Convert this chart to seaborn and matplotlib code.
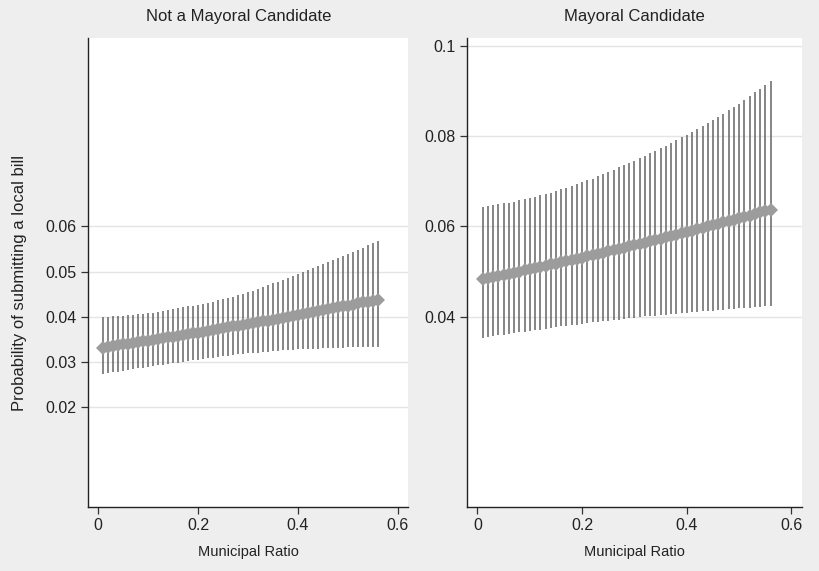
import matplotlib
matplotlib.use("Agg")
import numpy as np
import pandas as pd
import matplotlib.pyplot as plt
import seaborn as sns

# Municipal ratio values (one bar per 0.01 step)
ratio = [round(0.01 * i, 2) for i in range(1, 57)]

# Not a mayoral candidate: predicted probability and 95% CI
nm_mean = [0.0332, 0.0334, 0.0335, 0.0337, 0.0339, 0.0341, 0.0342, 0.0344, 0.0346, 0.0347,
           0.0349, 0.0351, 0.0353, 0.0355, 0.0356, 0.0358, 0.0360, 0.0362, 0.0364, 0.0365,
           0.0367, 0.0369, 0.0371, 0.0373, 0.0375, 0.0377, 0.0379, 0.0380, 0.0382, 0.0384,
           0.0386, 0.0388, 0.0390, 0.0392, 0.0394, 0.0396, 0.0398, 0.0400, 0.0402, 0.0404,
           0.0406, 0.0408, 0.0410, 0.0413, 0.0415, 0.0417, 0.0419, 0.0421, 0.0423, 0.0425,
           0.0427, 0.0430, 0.0432, 0.0434, 0.0436, 0.0438]
nm_upper = [0.0399, 0.0400, 0.0401, 0.0402, 0.0403, 0.0404, 0.0405, 0.0406, 0.0407, 0.0408,
            0.0409, 0.0411, 0.0413, 0.0415, 0.0417, 0.0419, 0.0421, 0.0423, 0.0425, 0.0427,
            0.0429, 0.0431, 0.0434, 0.0437, 0.0439, 0.0442, 0.0445, 0.0448, 0.0451, 0.0455,
            0.0458, 0.0462, 0.0466, 0.0470, 0.0474, 0.0478, 0.0482, 0.0486, 0.0490, 0.0495,
            0.0499, 0.0503, 0.0508, 0.0512, 0.0517, 0.0521, 0.0526, 0.0530, 0.0535, 0.0539,
            0.0544, 0.0549, 0.0553, 0.0558, 0.0563, 0.0567]
nm_lower = [0.0273, 0.0275, 0.0277, 0.0279, 0.0280, 0.0282, 0.0284, 0.0286, 0.0288, 0.0289,
            0.0291, 0.0293, 0.0294, 0.0296, 0.0298, 0.0299, 0.0301, 0.0302, 0.0304, 0.0305,
            0.0307, 0.0308, 0.0310, 0.0311, 0.0313, 0.0314, 0.0315, 0.0317, 0.0318, 0.0319,
            0.0320, 0.0321, 0.0322, 0.0323, 0.0324, 0.0325, 0.0326, 0.0327, 0.0327, 0.0328,
            0.0329, 0.0329, 0.0330, 0.0330, 0.0331, 0.0331, 0.0332, 0.0332, 0.0332, 0.0333,
            0.0333, 0.0333, 0.0333, 0.0334, 0.0334, 0.0334]

# Mayoral candidate
m_mean = [0.0483, 0.0485, 0.0488, 0.0490, 0.0493, 0.0495, 0.0498, 0.0500, 0.0503, 0.0505,
          0.0508, 0.0510, 0.0513, 0.0516, 0.0518, 0.0521, 0.0523, 0.0526, 0.0529, 0.0531,
          0.0534, 0.0537, 0.0540, 0.0542, 0.0545, 0.0548, 0.0551, 0.0553, 0.0556, 0.0559,
          0.0562, 0.0564, 0.0567, 0.0570, 0.0573, 0.0576, 0.0579, 0.0582, 0.0585, 0.0588,
          0.0591, 0.0594, 0.0597, 0.0600, 0.0603, 0.0606, 0.0609, 0.0612, 0.0615, 0.0618,
          0.0621, 0.0624, 0.0627, 0.0631, 0.0634, 0.0637]
m_upper = [0.0643, 0.0645, 0.0647, 0.0649, 0.0651, 0.0653, 0.0655, 0.0658, 0.0660, 0.0663,
           0.0666, 0.0669, 0.0672, 0.0675, 0.0679, 0.0682, 0.0686, 0.0690, 0.0694, 0.0698,
           0.0702, 0.0706, 0.0711, 0.0716, 0.0721, 0.0726, 0.0731, 0.0736, 0.0741, 0.0746,
           0.0751, 0.0757, 0.0762, 0.0768, 0.0773, 0.0779, 0.0785, 0.0791, 0.0797, 0.0803,
           0.0809, 0.0816, 0.0822, 0.0829, 0.0836, 0.0843, 0.0850, 0.0857, 0.0864, 0.0872,
           0.0880, 0.0888, 0.0897, 0.0905, 0.0914, 0.0922]
m_lower = [0.0353, 0.0355, 0.0357, 0.0359, 0.0360, 0.0362, 0.0364, 0.0366, 0.0367, 0.0369,
           0.0371, 0.0372, 0.0374, 0.0376, 0.0377, 0.0379, 0.0380, 0.0382, 0.0383, 0.0385,
           0.0386, 0.0388, 0.0389, 0.0390, 0.0392, 0.0393, 0.0394, 0.0396, 0.0397, 0.0398,
           0.0399, 0.0401, 0.0402, 0.0403, 0.0404, 0.0405, 0.0406, 0.0407, 0.0408, 0.0409,
           0.0410, 0.0411, 0.0412, 0.0413, 0.0414, 0.0415, 0.0416, 0.0417, 0.0418, 0.0419,
           0.0420, 0.0420, 0.0421, 0.0422, 0.0423, 0.0424]

panel_titles = ["Not a Mayoral Candidate", "Mayoral Candidate"]
yticks_left = [0.02, 0.03, 0.04, 0.05, 0.06]
yticks_right = [0.04, 0.06, 0.08, 0.1]
ytick_labels_right = ["0.04", "0.06", "0.08", "0.1"]
xticks = [0, 0.2, 0.4, 0.6]

sns.set_style("white")
plt.rcParams["font.family"] = ["Liberation Sans", "DejaVu Sans"]

bg = "#eeeeee"
fig = plt.figure(figsize=(8.19, 5.71), dpi=100, facecolor=bg)
ax1 = fig.add_axes([0.1074, 0.1126, 0.3907, 0.8208])
ax2 = fig.add_axes([0.5702, 0.1126, 0.4090, 0.8208])

panels = [
    (ax1, nm_mean, nm_lower, nm_upper, yticks_left, None),
    (ax2, m_mean, m_lower, m_upper, yticks_right, ytick_labels_right),
]

for i, (ax, mean, lower, upper, yt, ytl) in enumerate(panels):
    df = pd.DataFrame({"ratio": ratio, "mean": mean, "lower": lower, "upper": upper})
    ax.set_facecolor("white")
    ax.vlines(df["ratio"], df["lower"], df["upper"], color="#6a6a6a", lw=1.15, zorder=2)
    sns.lineplot(data=df, x="ratio", y="mean", ax=ax, color="#9c9c9c", lw=5.5,
                 marker="D", markersize=7, markeredgewidth=0, zorder=3)
    ax.set_xlim(-0.02, 0.62)
    ax.set_ylim(-0.002, 0.1017)
    ax.set_xticks(xticks)
    ax.set_xticklabels(["0", "0.2", "0.4", "0.6"])
    ax.set_yticks(yt)
    if ytl is not None:
        ax.set_yticklabels(ytl)
    else:
        ax.set_yticklabels([f"{v:.2f}" for v in yt])
    ax.yaxis.grid(True, color="#e4e4e4", lw=1)
    ax.xaxis.grid(False)
    ax.set_axisbelow(True)
    for s in ["top", "right"]:
        ax.spines[s].set_visible(False)
    for s in ["left", "bottom"]:
        ax.spines[s].set_color("#222222")
        ax.spines[s].set_linewidth(1.0)
    ax.tick_params(axis="both", direction="out", length=5, width=0.9, color="#333333",
                   labelsize=11.5, labelcolor="#222222", pad=3, left=True, bottom=True)
    ax.set_xlabel("Municipal Ratio", fontsize=10.5, color="#222222", labelpad=9)
    if i == 0:
        ax.set_title(panel_titles[i], fontsize=12, color="#222222", pad=12, x=0.47)
        ax.set_ylabel("Probability of submitting a local bill", fontsize=12,
                      color="#222222")
        ax.yaxis.set_label_coords(-0.19, 0.478)
    else:
        ax.set_title(panel_titles[i], fontsize=12, color="#222222", pad=12)
        ax.set_ylabel("")

fig.savefig("out.png", dpi=100, facecolor=bg)
